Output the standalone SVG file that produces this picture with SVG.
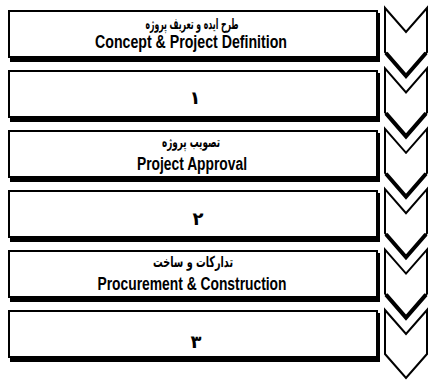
<svg xmlns="http://www.w3.org/2000/svg" width="430" height="380" viewBox="0 0 430 380">
<style>
.bg{fill:#fff}
.sh{fill:#000}
.box{fill:#fff;stroke:#000;stroke-width:2}
.en{font-family:"Liberation Sans",Arial,sans-serif;font-size:18px;font-weight:bold;fill:#000;text-anchor:middle}
.fa{font-family:"DejaVu Sans",sans-serif;font-size:15px;font-weight:bold;fill:#000;text-anchor:middle}
.num{font-family:"DejaVu Sans",sans-serif;font-size:18px;font-weight:bold;fill:#000;text-anchor:middle}
.chev{fill:#fff;stroke:#000;stroke-width:2;stroke-linejoin:miter}
.chevb{fill:none;stroke:#000;stroke-width:4;stroke-linejoin:miter}
</style>
<rect class="bg" x="0" y="0" width="430" height="380"/>
<g id="box1">
<rect class="sh" x="10" y="13" width="370" height="49"/>
<rect class="box" x="9" y="11" width="368" height="46"/>
<text class="fa" x="192" y="29" textLength="93" lengthAdjust="spacingAndGlyphs">طرح ایده و تعریف پروژه</text>
<text class="en" x="191" y="48" textLength="192" lengthAdjust="spacingAndGlyphs">Concept &amp; Project Definition</text>
</g>
<g id="box2">
<rect class="sh" x="10" y="73" width="370" height="49"/>
<rect class="box" x="9" y="71" width="368" height="46"/>
<text class="num" x="195" y="104">۱</text>
</g>
<g id="box3">
<rect class="sh" x="10" y="133" width="370" height="49"/>
<rect class="box" x="9" y="131" width="368" height="46"/>
<text class="fa" x="191" y="147" textLength="58" lengthAdjust="spacingAndGlyphs">تصویب پروژه</text>
<text class="en" x="192" y="170" textLength="110" lengthAdjust="spacingAndGlyphs">Project Approval</text>
</g>
<g id="box4">
<rect class="sh" x="10" y="193" width="370" height="49"/>
<rect class="box" x="9" y="191" width="368" height="46"/>
<text class="num" x="198" y="225">۲</text>
</g>
<g id="box5">
<rect class="sh" x="10" y="253" width="370" height="49"/>
<rect class="box" x="9" y="251" width="368" height="46"/>
<text class="fa" x="193" y="267" textLength="80" lengthAdjust="spacingAndGlyphs">تدارکات و ساخت</text>
<text class="en" x="192" y="290" textLength="189" lengthAdjust="spacingAndGlyphs">Procurement &amp; Construction</text>
</g>
<g id="box6">
<rect class="sh" x="10" y="313" width="370" height="49"/>
<rect class="box" x="9" y="311" width="368" height="46"/>
<text class="num" x="196" y="348">۳</text>
</g>
<g id="connectors">
<g transform="translate(0,8)">
<path class="chev" d="M385,0 L406,24 L427,0 V44 L406,68 L385,44 Z"/>
<path class="chevb" d="M386,45 L406,68 L426,45"/>
</g>
<g transform="translate(0,68.4)">
<path class="chev" d="M385,0 L406,24 L427,0 V44 L406,68 L385,44 Z"/>
<path class="chevb" d="M386,45 L406,68 L426,45"/>
</g>
<g transform="translate(0,128.8)">
<path class="chev" d="M385,0 L406,24 L427,0 V44 L406,68 L385,44 Z"/>
<path class="chevb" d="M386,45 L406,68 L426,45"/>
</g>
<g transform="translate(0,189.2)">
<path class="chev" d="M385,0 L406,24 L427,0 V44 L406,68 L385,44 Z"/>
<path class="chevb" d="M386,45 L406,68 L426,45"/>
</g>
<g transform="translate(0,249.6)">
<path class="chev" d="M385,0 L406,24 L427,0 V44 L406,68 L385,44 Z"/>
<path class="chevb" d="M386,45 L406,68 L426,45"/>
</g>
<g transform="translate(0,310)">
<path class="chev" d="M385,0 L406,24 L427,0 V44 L406,68 L385,44 Z"/>
</g>
</g>
</svg>
